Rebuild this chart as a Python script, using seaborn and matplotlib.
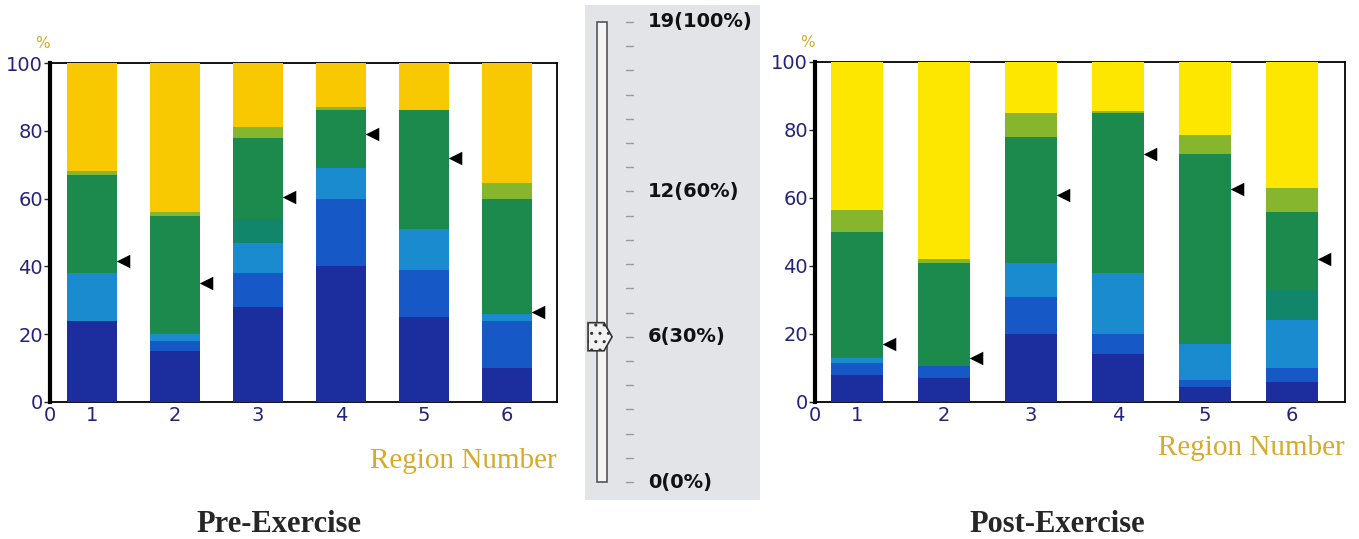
import matplotlib
matplotlib.use("Agg")
import matplotlib.pyplot as plt
from matplotlib.patches import Rectangle, Polygon
import seaborn as sns

# ---- data (cumulative band tops, %) ----
regions = [1, 2, 3, 4, 5, 6]

pre_navy = [24, 15, 28, 40, 25, 10]
pre_blue = [24, 18, 38, 60, 39, 24]
pre_cyan = [38, 20, 47, 69, 51, 26]
pre_teal = [38, 20, 54, 69, 51, 26]
pre_green = [67, 55, 78, 86, 86, 60]
pre_olive = [68, 56, 81, 87, 86, 64.5]
pre_marker = [41.5, 35, 60.5, 79, 72, 26.5]

post_navy = [8, 7, 20, 14, 4.5, 6]
post_blue = [11.5, 10.5, 31, 20, 6.5, 10]
post_cyan = [13, 10.5, 41, 38, 17, 24]
post_teal = [13, 10.5, 41, 38, 17, 33]
post_green = [50, 41, 78, 85, 73, 56]
post_olive = [56.5, 42, 85, 85.5, 78.5, 63]
post_marker = [17, 13, 61, 73, 62.5, 42]

full = [100] * 6

slider_max = 19
slider_value = 6
slider_labels = {19: "19(100%)", 12: "12(60%)", 6: "6(30%)", 0: "0(0%)"}

band_colors = {
    "navy": "#1c2d9e", "blue": "#1558c6", "cyan": "#1b8bcf",
    "teal": "#12866a", "green": "#1c8a4c", "olive": "#86b52e",
}
navy_txt = "#23237c"
gold_txt = "#d6aa2a"

sns.set_style("white")
fig = plt.figure(figsize=(13.59, 5.39), dpi=100)


def draw_panel(ax, tops, markers, yellow, xmin, xmax):
    # draw tallest first, each later layer covers the lower part
    layers = [(full, yellow)] + [(t, band_colors[k]) for k, t in tops]
    for heights, col in layers:
        sns.barplot(x=regions, y=heights, color=col, width=0.6,
                    native_scale=True, linewidth=0, saturation=1, ax=ax)
    for p in ax.patches:
        p.set_zorder(3)
    sns.scatterplot(x=[r + 0.37 for r in regions], y=markers, marker="<",
                    color="black", s=95, linewidth=0, zorder=4, ax=ax)
    ax.set_xlim(xmin, xmax)
    ax.set_ylim(0, 100)
    ax.set_xlabel("")
    ax.set_ylabel("")
    ax.set_yticks([0, 20, 40, 60, 80, 100])
    ax.set_xticks([xmin] + regions)
    ax.set_xticklabels(["0"] + [str(r) for r in regions])
    ax.tick_params(axis="x", length=0, pad=3, labelsize=14, labelcolor=navy_txt)
    ax.tick_params(axis="y", length=4, width=1, left=True, pad=1,
                   labelsize=14, labelcolor=navy_txt)
    for s in ax.spines.values():
        s.set_color("black")
        s.set_linewidth(1.3)
        s.set_visible(True)
    ax.spines["left"].set_linewidth(3)
    ax.text(-0.015, 1.035, "%", transform=ax.transAxes, color=gold_txt,
            fontsize=11, ha="center", va="bottom")


# left chart: Pre-Exercise
ax1 = fig.add_axes([0.0368, 0.2542, 0.3731, 0.6289])
draw_panel(ax1, [("olive", pre_olive), ("green", pre_green), ("teal", pre_teal),
                 ("cyan", pre_cyan), ("blue", pre_blue), ("navy", pre_navy)],
           pre_marker, "#f8c800", 0.494, 6.6)
ax1.text(1.0, -0.174, "Region Number", transform=ax1.transAxes, color=gold_txt,
         fontsize=21, family="Liberation Serif", ha="right", va="center")
fig.text(0.205, 0.027, "Pre-Exercise", fontsize=22, fontweight="bold",
         family="Liberation Serif", ha="center", va="center")

# right chart: Post-Exercise
ax2 = fig.add_axes([0.5997, 0.2542, 0.39, 0.6308])
draw_panel(ax2, [("olive", post_olive), ("green", post_green), ("teal", post_teal),
                 ("cyan", post_cyan), ("blue", post_blue), ("navy", post_navy)],
           post_marker, "#fde600", 0.517, 6.61)
ax2.text(1.0, -0.135, "Region Number", transform=ax2.transAxes, color=gold_txt,
         fontsize=21, family="Liberation Serif", ha="right", va="center")
fig.text(0.778, 0.027, "Post-Exercise", fontsize=22, fontweight="bold",
         family="Liberation Serif", ha="center", va="center")

# middle slider
axs = fig.add_axes([0.4305, 0.0724, 0.1288, 0.9184])
axs.set_xlim(585, 760)
axs.set_ylim(-0.74, 19.70)
axs.set_facecolor("#e3e4e8")
for s in axs.spines.values():
    s.set_visible(False)
axs.set_xticks([])
axs.set_yticks([])
axs.add_patch(Rectangle((597, 0), 10, slider_max, facecolor="#f4f4f4",
                        edgecolor="#555555", linewidth=1.2))
for v in range(slider_max + 1):
    axs.plot([626, 633], [v, v], color="#9a9a9a", linewidth=1)
for v, lab in slider_labels.items():
    axs.text(648, v, lab, fontsize=14, fontweight="bold", color="#111111",
             ha="left", va="center")
h = 0.58
axs.add_patch(Polygon([(588, slider_value - h), (604, slider_value - h),
                       (612, slider_value), (604, slider_value + h),
                       (588, slider_value + h)], closed=True,
                      facecolor="#f2f2f2", edgecolor="#333333", linewidth=1.2,
                      hatch="..", zorder=5))

fig.savefig("out.png", dpi=100)
